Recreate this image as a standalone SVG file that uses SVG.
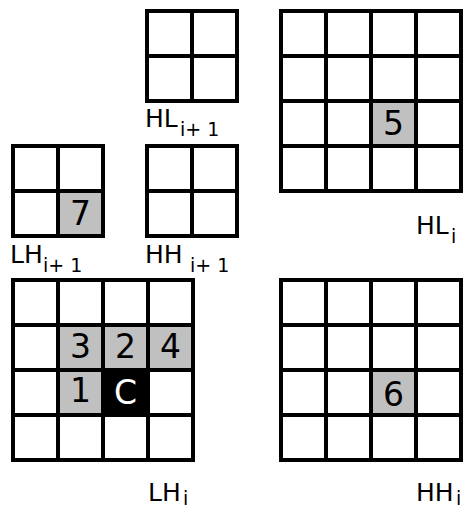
<svg xmlns="http://www.w3.org/2000/svg" width="467" height="510" viewBox="0 0 467 510">
<style>
.bg{fill:#ffffff}
.g{fill:#c0c0c0}
.k{fill:#000000}
.ln{fill:none;stroke:#000000;stroke-width:4;stroke-linecap:square}
.lab{font-family:"DejaVu Sans",sans-serif;font-size:25px;fill:#000000}
.sub{font-family:"DejaVu Sans",sans-serif;font-size:19px;fill:#000000}
.num{font-family:"DejaVu Sans",sans-serif;font-size:33px;fill:#000000;text-anchor:middle}
.numw{font-family:"DejaVu Sans",sans-serif;font-size:33px;fill:#ffffff;text-anchor:middle}
</style>
<rect class="bg" x="0" y="0" width="467" height="510"/>
<g id="HL_i1">
<path class="ln" d="M147,11H237V101H147Z M192,11V101 M147,56H237"/>
<text class="lab" x="145" y="127">HL</text>
<text class="sub" x="180" y="136">i+ 1</text>
</g>
<g id="HL_i">
<rect class="g" x="371" y="101" width="45" height="45"/>
<path class="ln" d="M281,11H461V191H281Z M326,11V191 M371,11V191 M416,11V191 M281,56H461 M281,101H461 M281,146H461"/>
<text class="num" x="393.5" y="135">5</text>
<text class="lab" x="416" y="234">HL</text>
<text class="sub" x="451" y="243">i</text>
</g>
<g id="LH_i1">
<rect class="g" x="58" y="191" width="45" height="45"/>
<path class="ln" d="M13,146H103V236H13Z M58,146V236 M13,191H103"/>
<text class="num" x="80.5" y="225">7</text>
<text class="lab" x="10" y="263">LH</text>
<text class="sub" x="43" y="272">i+ 1</text>
</g>
<g id="HH_i1">
<path class="ln" d="M147,146H237V236H147Z M192,146V236 M147,191H237"/>
<text class="lab" x="145" y="263">HH</text>
<text class="sub" x="190" y="272">i+ 1</text>
</g>
<g id="LH_i">
<rect class="g" x="58" y="325" width="45" height="45"/>
<rect class="g" x="103" y="325" width="45" height="45"/>
<rect class="g" x="148" y="325" width="46" height="45"/>
<rect class="g" x="58" y="370" width="45" height="45"/>
<rect class="k" x="103" y="370" width="45" height="45"/>
<path class="ln" d="M13,280H193V460H13Z M58,280V460 M103,280V460 M148,280V460 M13,325H193 M13,370H193 M13,415H193"/>
<text class="num" x="80.5" y="358">3</text>
<text class="num" x="125.5" y="358">2</text>
<text class="num" x="170.5" y="358">4</text>
<text class="num" x="80.5" y="402">1</text>
<text class="numw" x="125.5" y="404">C</text>
<text class="lab" x="148" y="501">LH</text>
<text class="sub" x="183" y="505">i</text>
</g>
<g id="HH_i">
<rect class="g" x="371" y="370" width="45" height="45"/>
<path class="ln" d="M281,280H461V460H281Z M326,280V460 M371,280V460 M416,280V460 M281,325H461 M281,370H461 M281,415H461"/>
<text class="num" x="393.5" y="406">6</text>
<text class="lab" x="416" y="501">HH</text>
<text class="sub" x="456" y="505">i</text>
</g>
<g id="connectors"/>
</svg>
